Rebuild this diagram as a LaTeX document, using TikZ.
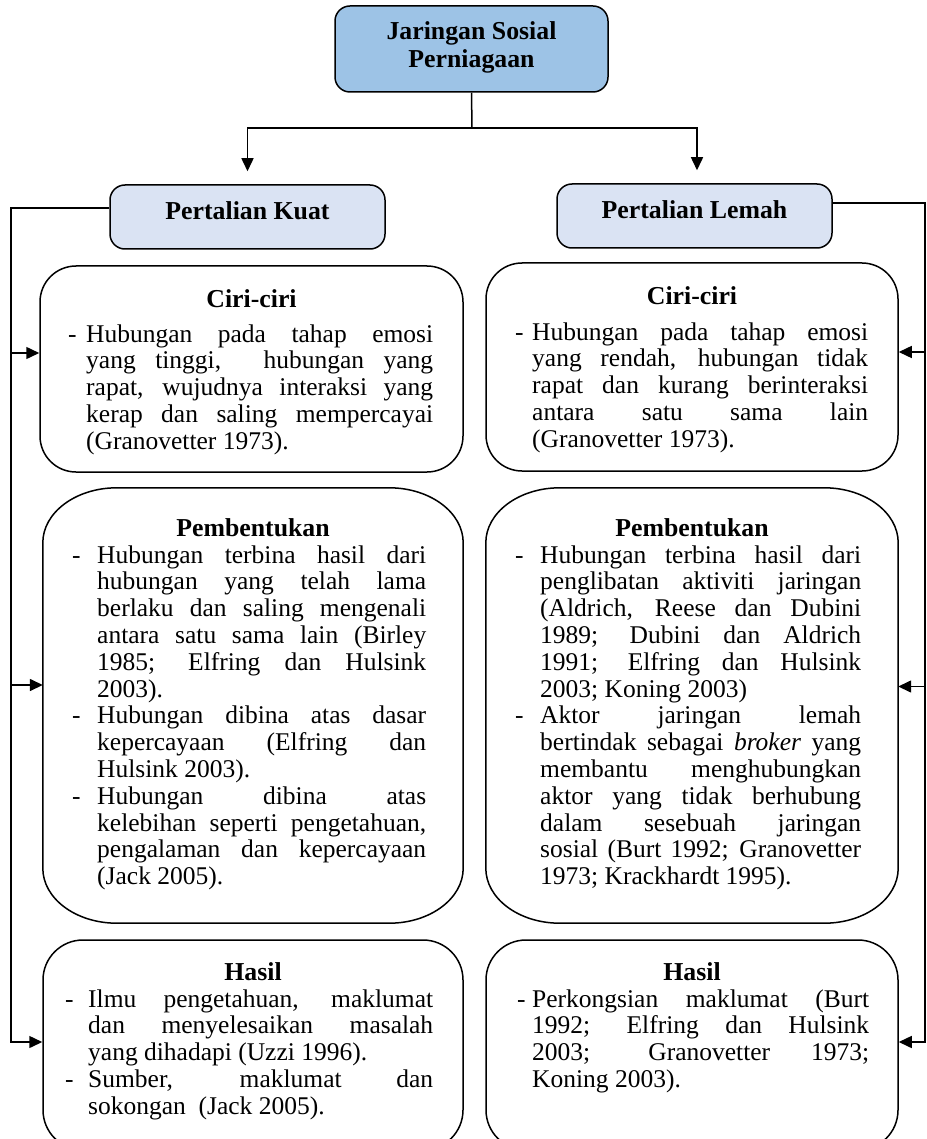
\documentclass[tikz,border=0pt]{standalone}
\usepackage{fontspec}
\setmainfont{Liberation Serif}
\usetikzlibrary{arrows.meta,calc}
\definecolor{topblue}{RGB}{157,195,230}
\definecolor{lightblue}{RGB}{218,227,243}
\newlength\dashW
\newlength\textW
\newcommand\Init[2]{\setlength\dashW{#1}\setlength\textW{#2}\spaceskip=0pt\xspaceskip=0pt\relax}
\newcommand\Fi[1]{\makebox[\dashW][l]{-}\makebox[\textW][s]{#1}\\}
\newcommand\Co[1]{\hspace*{\dashW}\makebox[\textW][s]{#1}\\}
\newcommand\La[1]{\hspace*{\dashW}#1\\}
\newcommand\Lz[1]{\hspace*{\dashW}#1}
% outline of a node with elliptical corners
\newcommand\ellbox[3]{\draw[line width=1.5pt]
  ([xshift=#2]#1.north west) -- ([xshift=-#2]#1.north east)
  arc[start angle=90,end angle=0,x radius=#2,y radius=#3]
  -- ([yshift=#3]#1.south east)
  arc[start angle=0,end angle=-90,x radius=#2,y radius=#3]
  -- ([xshift=#2]#1.south west)
  arc[start angle=270,end angle=180,x radius=#2,y radius=#3]
  -- ([yshift=-#3]#1.north west)
  arc[start angle=180,end angle=90,x radius=#2,y radius=#3] -- cycle;}
\tikzset{
  box/.style={draw, line width=1.5pt, inner sep=0pt},
  frame/.style={inner sep=0pt},
  ttl/.style={font=\bfseries\fontsize{25.8}{28}\selectfont, anchor=base, inner sep=0pt},
  body/.style={font=\fontsize{25.5}{26.8}\selectfont, anchor=base west, inner sep=0pt, align=left},
  conn/.style={line width=1.5pt},
  arr/.style={conn, -{Triangle[length=13pt,width=12pt]}}
}
\begin{document}
\begin{tikzpicture}[x=1pt,y=-1pt]
\clip (0,0) rectangle (926,1139);
\useasboundingbox (0,0) rectangle (926,1139);

% ---- boxes ----
\node[box, fill=topblue, rounded corners=15pt, minimum width=273pt, minimum height=86pt] (top) at (471.5,49) {};
\node[box, fill=lightblue, rounded corners=15pt, minimum width=275pt, minimum height=64pt] (kuat) at (247.5,217) {};
\node[box, fill=lightblue, rounded corners=15pt, minimum width=275pt, minimum height=64pt] (lemah) at (694.5,216) {};

\node[box, rounded corners=36pt, minimum width=423pt, minimum height=206pt] (ciriL) at (251.5,369) {};
\node[box, rounded corners=36pt, minimum width=412pt, minimum height=208pt] (ciriR) at (692,367) {};
\node[frame, minimum width=420pt, minimum height=435pt] (pembL) at (253,705.5) {};
\node[frame, minimum width=412pt, minimum height=435pt] (pembR) at (692,705.5) {};
\ellbox{pembL}{74pt}{55pt}
\ellbox{pembR}{74pt}{55pt}
\node[box, rounded corners=40pt, minimum width=420pt, minimum height=210pt] (hasilL) at (253,1045) {};
\node[box, rounded corners=40pt, minimum width=412pt, minimum height=210pt] (hasilR) at (692,1045) {};

% ---- headings ----
\node[ttl] (tTop1) at (471.5,40) {Jaringan Sosial};
\node[ttl] (tTop2) at (471.5,68) {Perniagaan};
\node[ttl] (tKuat) at (247.5,220) {Pertalian Kuat};
\node[ttl] (tLemah) at (694.5,219) {Pertalian Lemah};

\node[ttl] (tCiriL) at (251.5,307) {Ciri-ciri};
\node[ttl] (tCiriR) at (692,305) {Ciri-ciri};
\node[ttl] (tPembL) at (253,536) {Pembentukan};
\node[ttl] (tPembR) at (692,536) {Pembentukan};
\node[ttl] (tHasilL) at (253,980) {Hasil};
\node[ttl] (tHasilR) at (692,980) {Hasil};

% ---- bodies ----
\node[body, text width=370pt] (bCiriL) at (68,342) {\Init{18pt}{347pt}%
\Fi{Hubungan pada tahap emosi}
\Co{yang tinggi, \ hubungan yang}
\Co{rapat, wujudnya interaksi yang}
\Co{kerap dan saling mempercayai}
\Lz{(Granovetter 1973).}};

\node[body, text width=360pt] (bCiriR) at (515,340) {\Init{17pt}{336pt}%
\Fi{Hubungan pada tahap emosi}
\Co{yang rendah, hubungan tidak}
\Co{rapat dan kurang berinteraksi}
\Co{antara satu sama lain}
\Lz{(Granovetter 1973).}};

\node[body, text width=360pt] (bPembL) at (72,563) {\Init{25pt}{329pt}%
\Fi{Hubungan terbina hasil dari}
\Co{hubungan yang telah lama}
\Co{berlaku dan saling mengenali}
\Co{antara satu sama lain (Birley}
\Co{1985; Elfring dan Hulsink}
\La{2003).}
\Fi{Hubungan dibina atas dasar}
\Co{kepercayaan (Elfring dan}
\La{Hulsink 2003).}
\Fi{Hubungan dibina atas}
\Co{kelebihan seperti pengetahuan,}
\Co{pengalaman dan kepercayaan}
\Lz{(Jack 2005).}};

\node[body, text width=352pt] (bPembR) at (515,563) {\Init{25pt}{321pt}%
\Fi{Hubungan terbina hasil dari}
\Co{penglibatan aktiviti jaringan}
\Co{(Aldrich, Reese dan Dubini}
\Co{1989; Dubini dan Aldrich}
\Co{1991; Elfring dan Hulsink}
\La{2003; Koning 2003)}
\Fi{Aktor jaringan lemah}
\Co{bertindak sebagai \textit{broker} yang}
\Co{membantu menghubungkan}
\Co{aktor yang tidak berhubung}
\Co{dalam sesebuah jaringan}
\Co{sosial (Burt 1992; Granovetter}
\Lz{1973; Krackhardt 1995).}};

\node[body, text width=372pt] (bHasilL) at (65,1007) {\Init{23pt}{345pt}%
\Fi{Ilmu pengetahuan, maklumat}
\Co{dan menyelesaikan masalah}
\La{yang dihadapi (Uzzi 1996).}
\Fi{Sumber, maklumat dan}
\Lz{sokongan \ (Jack 2005).}};

\node[body, text width=360pt] (bHasilR) at (517,1007) {\Init{15pt}{337pt}%
\Fi{Perkongsian maklumat (Burt}
\Co{1992; Elfring dan Hulsink}
\Co{2003; Granovetter 1973;}
\Lz{Koning 2003).}};

% ---- connectors ----
\coordinate (fork) at (472,128);
\draw[conn] (top.south) -- (fork);
\draw[arr, shorten >=13pt] (fork) -| (kuat.north);
\draw[arr, shorten >=13pt] (fork) -| ([xshift=2.5pt]lemah.north);

\coordinate (sL) at (11,0);
\coordinate (sR) at (925,0);
\coordinate (kW) at ([yshift=9pt]kuat.west);
\coordinate (lE) at ([yshift=13pt]lemah.east);
\coordinate (cLw) at ([yshift=16pt]ciriL.west);
\coordinate (pLw) at ([yshift=20.5pt]pembL.west);
\coordinate (hLw) at ([yshift=3pt]hasilL.west);
\coordinate (cRe) at ([yshift=15pt]ciriR.east);
\coordinate (pRe) at ([yshift=19pt]pembR.east);
\coordinate (hRe) at ([yshift=3pt]hasilR.east);

\draw[arr] (kW) -| (sL |- hLw) -- (hLw);
\draw[arr] (sL |- cLw) -- (cLw);
\draw[arr] (sL |- pLw) -- (pLw);

\draw[arr] (lE) -| (sR |- hRe) -- (hRe);
\draw[arr] (sR |- cRe) -- (cRe);
\draw[arr] (sR |- pRe) -- (pRe);
\end{tikzpicture}
\end{document}
